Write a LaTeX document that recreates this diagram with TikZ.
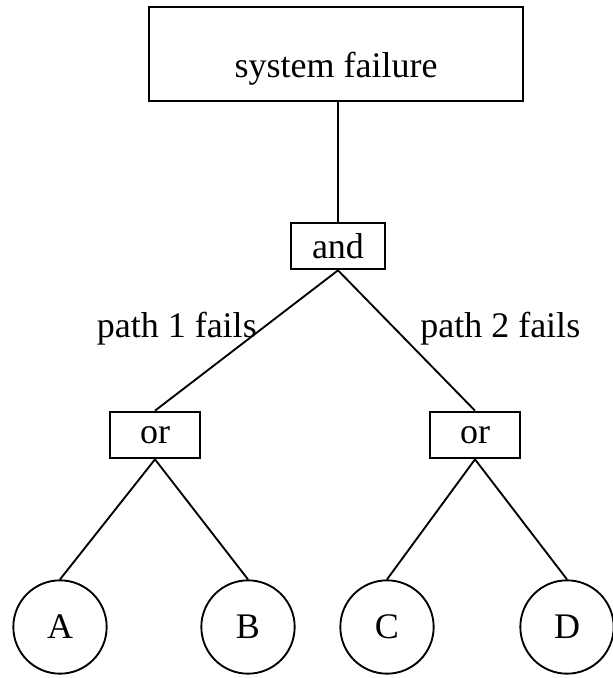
\documentclass[tikz,border=0pt]{standalone}
\usepackage{fontspec}
\setmainfont{Liberation Serif}
\begin{document}
\begin{tikzpicture}[x=0.75pt,y=-0.75pt,
  every node/.style={font=\fontsize{27}{30}\selectfont},
  gate/.style={draw,line width=1.5pt,rectangle,minimum width=67pt,minimum height=35pt,inner sep=0pt},
  evt/.style={draw,line width=1.4pt,circle,minimum size=70pt,inner sep=0pt},
  conn/.style={line width=1.4pt}]
\useasboundingbox (0,0) rectangle (613,678);
\node[draw,line width=1.7pt,rectangle,minimum width=280pt,minimum height=71pt] (top) at (336,54) {};
\node[anchor=base] (toptxt) at (336,77) {system failure};
\node[gate,minimum width=70pt] (and) at (338,246) {and};
\node[gate] (or1) at (155,435) {or};
\node[gate] (or2) at (475,435) {or};
\node[evt] (A) at (60,627) {A};
\node[evt] (B) at (248,627) {B};
\node[evt] (C) at (387,627) {C};
\node[evt] (D) at (567,627) {D};
\node[anchor=base east,inner sep=0pt] (p1) at (257,337) {path 1 fails};
\node[anchor=base west,inner sep=0pt] (p2) at (420,337) {path 2 fails};
\draw[conn] (top.south -| and.north) -- (and.north);
\draw[conn] (and.south) -- (or1.north);
\draw[conn] (and.south) -- (or2.north);
\draw[conn] (or1.south) -- (A.north);
\draw[conn] (or1.south) -- (B.north);
\draw[conn] (or2.south) -- (C.north);
\draw[conn] (or2.south) -- (D.north);
\end{tikzpicture}
\end{document}
